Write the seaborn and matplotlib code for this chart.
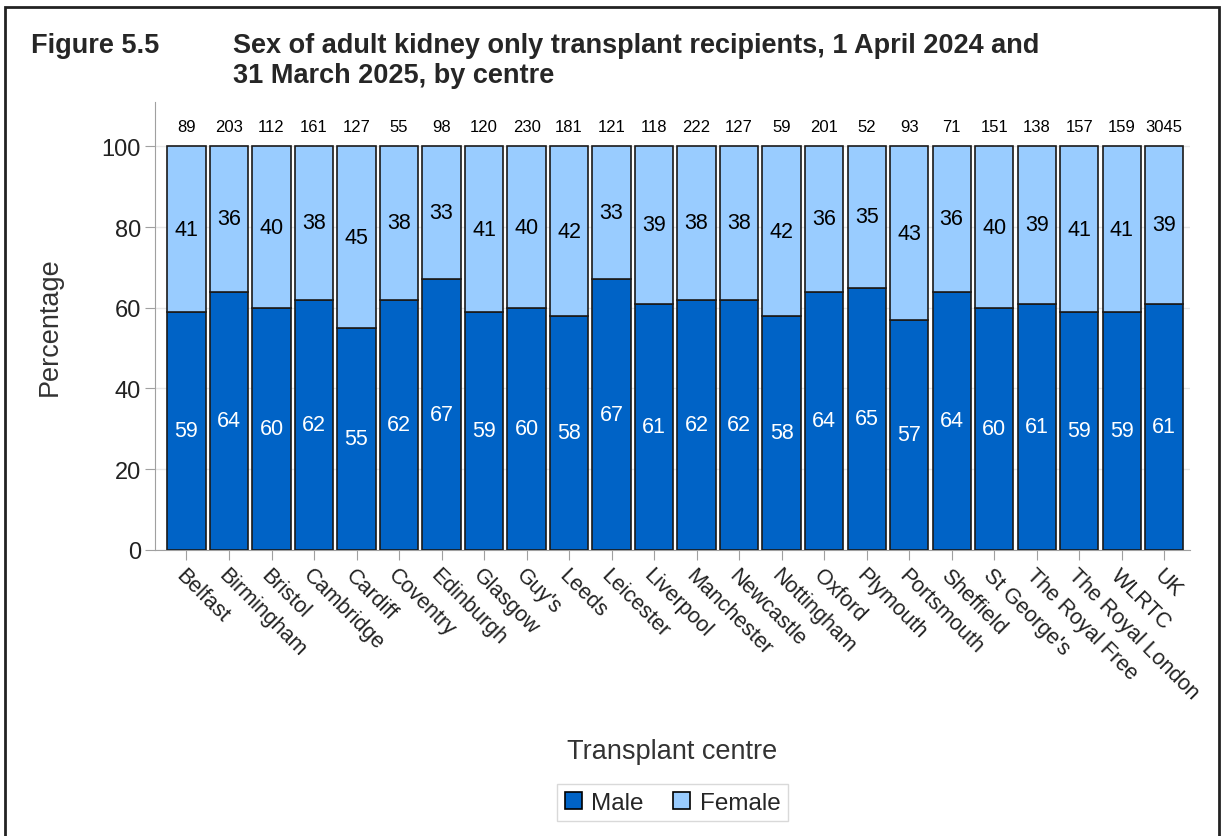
import matplotlib
matplotlib.use('Agg')
import matplotlib.pyplot as plt
import numpy as np
import pandas as pd
import seaborn as sns
from matplotlib.patches import Rectangle

sns.set_style(style='ticks')
plt.rcParams['font.family'] = ['Liberation Sans', 'DejaVu Sans']

centres = ['Belfast', 'Birmingham', 'Bristol', 'Cambridge', 'Cardiff', 'Coventry',
           'Edinburgh', 'Glasgow', "Guy's", 'Leeds', 'Leicester', 'Liverpool',
           'Manchester', 'Newcastle', 'Nottingham', 'Oxford', 'Plymouth',
           'Portsmouth', 'Sheffield', "St George's", 'The Royal Free',
           'The Royal London', 'WLRTC', 'UK']
n_total = [89, 203, 112, 161, 127, 55, 98, 120, 230, 181, 121, 118,
           222, 127, 59, 201, 52, 93, 71, 151, 138, 157, 159, 3045]
male = [59, 64, 60, 62, 55, 62, 67, 59, 60, 58, 67, 61,
        62, 62, 58, 64, 65, 57, 64, 60, 61, 59, 59, 61]
female = [41, 36, 40, 38, 45, 38, 33, 41, 40, 42, 33, 39,
          38, 38, 42, 36, 35, 43, 36, 40, 39, 41, 41, 39]

male_col = '#0063c6'
female_col = '#99ccff'

df = pd.DataFrame({'centre': centres, 'male': male, 'female': female, 'n': n_total})

fig, ax = plt.subplots(figsize=(12.24, 8.37), dpi=100)
fig.subplots_adjust(left=0.127, right=0.972, top=0.877, bottom=0.342)

sns.barplot(data=df, x='centre', y='male', color=male_col, saturation=1,
            width=0.9, edgecolor='#1a1a1a', linewidth=1.2, ax=ax, zorder=3)
sns.barplot(data=df, x='centre', y='female', bottom=df['male'], color=female_col,
            saturation=1, width=0.9, edgecolor='#1a1a1a', linewidth=1.2, ax=ax, zorder=3)

male_bars, female_bars = ax.containers[0], ax.containers[1]
ax.bar_label(male_bars, labels=[str(v) for v in male], label_type='center',
             color='white', fontsize=15.5, zorder=4)
ax.bar_label(female_bars, labels=[str(v) for v in female], label_type='center',
             color='black', fontsize=15.5, zorder=4)
ax.bar_label(female_bars, labels=[str(v) for v in n_total], padding=9,
             color='black', fontsize=12, zorder=4)

ax.set_ylim(0, 111)
ax.set_xlim(-0.73, len(centres) - 0.4)
ax.set_yticks([0, 20, 40, 60, 80, 100])
ax.yaxis.grid(True, color='#e6e6e6', linewidth=1, zorder=0)
ax.set_axisbelow(True)

for s in ['top', 'right']:
    ax.spines[s].set_visible(False)
for s in ['left', 'bottom']:
    ax.spines[s].set_color('#a0a0a0')
ax.tick_params(axis='both', colors='#a0a0a0', length=7, labelcolor='#222222', labelsize=17)
ax.tick_params(axis='x', labelsize=15.5)
plt.setp(ax.get_xticklabels(), rotation=-45, ha='left', va='top', rotation_mode='anchor')

ax.set_ylabel('Percentage', fontsize=19.5, color='#333333', labelpad=28)
ax.set_xlabel('Transplant centre', fontsize=19.5, color='#333333')
ax.xaxis.set_label_coords(0.5, -0.42)

handles = [Rectangle((0, 0), 1, 1, facecolor=male_col, edgecolor='black', linewidth=1.2),
           Rectangle((0, 0), 1, 1, facecolor=female_col, edgecolor='black', linewidth=1.2)]
ax.legend(handles, ['Male', 'Female'], loc='center', bbox_to_anchor=(0.5, -0.565),
          ncol=2, frameon=True, fontsize=17.5, handlelength=0.7, handleheight=0.7,
          handletextpad=0.4, columnspacing=1.2, fancybox=False, edgecolor='#d0d0d0',
          borderpad=0.3)

fig.text(0.025, 0.945, 'Figure 5.5', fontsize=19.5, fontweight='bold', va='center')
fig.text(0.19, 0.945, 'Sex of adult kidney only transplant recipients, 1 April 2024 and',
         fontsize=19.5, fontweight='bold', va='center')
fig.text(0.19, 0.909, '31 March 2025, by centre', fontsize=19.5, fontweight='bold', va='center')

fig.patches.append(Rectangle((0.004, -0.01), 0.992, 1.0, transform=fig.transFigure,
                             fill=False, edgecolor='#222222', linewidth=2))

fig.savefig('out.png', dpi=100)
